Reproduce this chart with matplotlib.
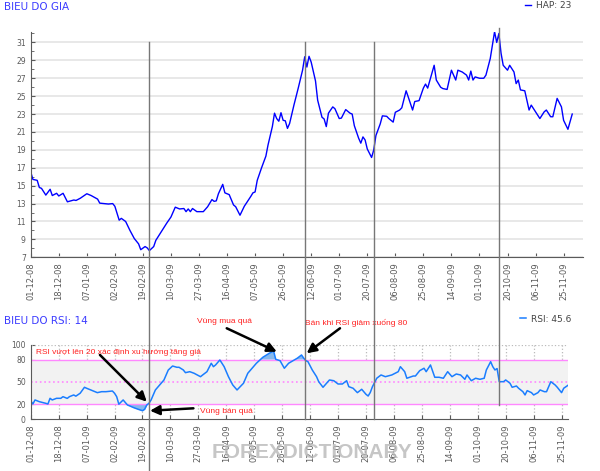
import numpy as np
import matplotlib.pyplot as plt
import matplotlib.transforms as mtransforms
from matplotlib.lines import Line2D
from matplotlib.ticker import MultipleLocator

# trading-day index -> closing price
price_day = [0, 1, 3, 4, 5, 7, 9, 10, 12, 13, 15, 17, 20, 21, 23, 26, 28, 31, 32, 34,
             36, 38, 39, 41, 42, 44, 46, 48, 50, 51, 53, 54, 55, 57, 58, 61, 63, 65, 67, 69,
             71, 72, 73, 74, 75, 77, 80, 82, 84, 85, 86, 87, 89, 90, 92, 94, 95, 97, 99, 102,
             103, 104, 105, 107, 109, 110, 112, 113, 114, 115, 116, 117, 118, 119, 120, 122, 124, 126, 127, 128,
             129, 130, 132, 133, 135, 136, 137, 138, 140, 141, 143, 144, 146, 148, 149, 150, 152, 153, 154, 155,
             156, 158, 159, 160, 162, 163, 165, 166, 168, 169, 171, 172, 174, 175, 177, 178, 180, 182, 183, 184,
             186, 187, 188, 190, 191, 193, 195, 197, 198, 200, 202, 203, 204, 205, 206, 208, 210, 211, 213, 215,
             216, 217, 218, 219, 221, 222, 224, 225, 226, 227, 229, 230, 231, 232, 234, 236, 238, 239, 241, 242,
             244, 246, 247, 249, 251]
price = [16.55, 15.7, 15.6, 14.8, 14.7, 13.95, 14.6, 13.9, 14.15, 13.85, 14.15, 13.2, 13.4, 13.35, 13.6, 14.1, 13.9, 13.5, 13.05, 13.0,
         12.95, 13.0, 12.7, 11.15, 11.35, 11.0, 10.0, 9.1, 8.5, 7.85, 8.2, 8.05, 7.75, 8.2, 8.9, 10.05, 10.8, 11.5, 12.6, 12.4,
         12.45, 12.1, 12.4, 12.1, 12.45, 12.1, 12.1, 12.65, 13.45, 13.25, 13.3, 14.1, 15.15, 14.2, 14.0, 12.85, 12.65, 11.7, 12.7, 13.8,
         14.2, 14.3, 15.6, 17.0, 18.3, 19.55, 21.6, 23.1, 22.5, 22.2, 23.15, 22.3, 22.25, 21.4, 21.95, 24.0, 25.9, 27.9, 29.4, 28.25,
         29.45, 28.8, 26.7, 24.55, 22.65, 22.45, 21.6, 23.1, 23.8, 23.6, 22.5, 22.55, 23.5, 23.1, 23.0, 21.7, 20.3, 19.75, 20.45, 20.1,
         19.1, 18.15, 19.0, 20.6, 21.9, 22.8, 22.75, 22.5, 22.1, 23.2, 23.45, 23.7, 25.6, 24.9, 23.45, 24.4, 24.5, 25.9, 26.35, 25.9,
         27.6, 28.45, 26.8, 26.0, 25.85, 25.75, 27.9, 26.8, 27.9, 27.7, 27.35, 26.8, 27.8, 26.8, 27.15, 27.0, 27.0, 27.35, 29.2, 32.2,
         31.0, 32.0, 29.8, 28.45, 27.9, 28.45, 27.7, 26.4, 26.8, 25.7, 25.6, 24.55, 23.45, 24.0, 23.25, 22.5, 23.25, 23.45, 22.7, 22.7,
         24.75, 23.8, 22.3, 21.3, 23.0]

# trading-day index -> RSI(14)
rsi_day = [0, 1, 2, 4, 7, 8, 9, 10, 12, 14, 15, 17, 18, 20, 21, 23, 25, 26, 28, 31,
           33, 35, 38, 39, 40, 41, 43, 45, 48, 50, 52, 53, 54, 55, 56, 58, 62, 64, 66, 68,
           69, 71, 72, 74, 76, 79, 80, 82, 84, 85, 86, 88, 90, 92, 94, 96, 99, 101, 105, 108,
           111, 113, 114, 116, 118, 120, 124, 126, 127, 128, 129, 131, 133, 134, 136, 139, 141, 143, 145, 147,
           148, 150, 152, 154, 156, 157, 158, 159, 161, 163, 165, 168, 171, 172, 174, 175, 178, 179, 181, 183,
           184, 186, 188, 190, 192, 194, 196, 198, 200, 202, 203, 205, 207, 209, 211, 212, 214, 215, 216, 217,
           218, 220, 221, 223, 224, 226, 227, 229, 230, 231, 233, 234, 236, 237, 239, 240, 242, 244, 245, 247,
           248, 250]
rsi = [24.9, 20.5, 25.9, 23.6, 21.4, 20.5, 28.1, 25.9, 28.1, 28.1, 30.3, 28.0, 30.3, 32.6, 31.0, 34.9, 42.9, 41.6, 39.3, 35.7,
       37.0, 37.0, 37.9, 34.9, 30.3, 20.2, 25.9, 19.2, 15.5, 13.4, 11.5, 13.4, 19.2, 21.4, 25.9, 39.3, 52.7, 66.0, 71.4, 69.7,
       69.7, 66.1, 62.5, 63.8, 61.7, 57.1, 59.4, 63.8, 75.1, 70.5, 72.8, 79.5, 70.5, 57.1, 46.0, 39.3, 48.3, 61.7, 75.1, 83.1,
       88.5, 91.6, 80.4, 78.6, 68.4, 75.1, 81.8, 86.2, 82.0, 78.6, 77.2, 66.1, 57.1, 50.4, 42.9, 52.7, 51.7, 47.3, 47.3, 51.7,
       43.7, 41.6, 35.7, 40.2, 33.5, 31.2, 36.0, 43.7, 55.0, 59.4, 57.1, 59.4, 63.8, 70.5, 63.8, 55.0, 58.0, 58.0, 65.2, 68.4,
       63.8, 72.8, 56.3, 56.3, 55.0, 63.8, 57.1, 60.7, 59.4, 53.6, 59.4, 51.7, 55.0, 53.6, 55.0, 66.1, 77.2, 70.5, 66.1, 68.0,
       50.4, 50.4, 52.7, 48.3, 42.9, 44.6, 41.6, 37.0, 32.6, 38.4, 35.7, 32.6, 35.7, 39.3, 37.0, 37.0, 50.4, 46.0, 42.9, 35.7,
       41.6, 45.6]

tick_labels = ["01-12-08", "18-12-08", "07-01-09", "02-02-09", "19-02-09", "10-03-09", "27-03-09",
               "16-04-09", "07-05-09", "26-05-09", "12-06-09", "01-07-09", "20-07-09", "06-08-09",
               "25-08-09", "14-09-09", "01-10-09", "20-10-09", "06-11-09", "25-11-09"]
tick_step = 13
signal_days = [55, 127, 159, 217]

tick_pos = np.arange(len(tick_labels)) * tick_step
price_day = np.array(price_day)
price = np.array(price)
rsi_day = np.array(rsi_day)
rsi = np.array(rsi)

grey = "#5a5a5a"
fig = plt.figure(figsize=(6, 4.71), dpi=100)

# price chart
ax1 = fig.add_axes([0.0512, 0.4537, 0.9205, 0.479])
ax1.plot(price_day, price, color="#0000ff", lw=1.0, label="HAP: 23")
ax1.set_xlim(0, 256)
ax1.set_ylim(7, 32.2)
ax1.set_yticks(np.arange(7, 32, 2))
ax1.yaxis.set_minor_locator(MultipleLocator(1))
ax1.grid(axis="y", color="#e4e4e4", lw=1.2)
ax1.set_axisbelow(True)
ax1.set_xticks(tick_pos)
ax1.set_xticklabels(tick_labels, rotation=90)
for s in ["top", "right"]:
    ax1.spines[s].set_visible(False)
for s in ["left", "bottom"]:
    ax1.spines[s].set_color(grey)
ax1.tick_params(direction="in", length=3, colors=grey, labelsize=6)
ax1.tick_params(axis="y", which="minor", direction="in", length=2, colors=grey)
ax1.tick_params(axis="y", labelsize=5.5)
ax1.legend(loc="center right", bbox_to_anchor=(580 / 600, 1 - 6 / 471), bbox_transform=fig.transFigure,
           frameon=False, fontsize=6.5, handlelength=0.7, handletextpad=0.6, labelcolor="#444444")

# RSI chart
ax2 = fig.add_axes([0.0512, 0.1098, 0.8955, 0.1584])
ax2.axhspan(20, 80, color="#f2f2f2", lw=0)
ax2.axhline(100, color="#bbbbbb", ls=":", lw=0.9)
ax2.grid(axis="x", color="#bbbbbb", ls=":", lw=0.9)
ax2.set_axisbelow(True)
ax2.axhline(80, color="#ff88ff", lw=1)
ax2.axhline(20, color="#ff88ff", lw=1)
ax2.axhline(50, color="#ff88ff", lw=1.2, ls=":")
ax2.fill_between(rsi_day, rsi, 80, where=rsi > 80, interpolate=True, color="#86b9ee", lw=0)
ax2.fill_between(rsi_day, rsi, 20, where=rsi < 20, interpolate=True, color="#86b9ee", lw=0)
ax2.plot(rsi_day, rsi, color="#1a7dff", lw=1.1, label="RSI: 45.6")
ax2.set_xlim(0, 250)
ax2.set_ylim(0, 100)
ax2.set_yticks([0, 20, 50, 80, 100])
ax2.set_xticks(tick_pos)
ax2.set_xticklabels(tick_labels, rotation=90)
for s in ["top", "right"]:
    ax2.spines[s].set_visible(False)
for s in ["left", "bottom"]:
    ax2.spines[s].set_color(grey)
ax2.tick_params(direction="in", length=3, colors=grey, labelsize=6)
ax2.tick_params(axis="y", labelsize=5.5)
ax2.legend(loc="center right", bbox_to_anchor=(580 / 600, 1 - 319 / 471), bbox_transform=fig.transFigure,
           frameon=False, fontsize=6.5, handlelength=0.7, handletextpad=0.6, labelcolor="#444444")

# annotations
red = "#ff2020"
note_font = dict(color=red, fontsize=6, family="Liberation Sans", va="center", clip_on=False)
arrow = dict(arrowstyle="-|>", color="black", lw=1.8, mutation_scale=14, shrinkA=0, shrinkB=0)
ax2.text(2.5, 89.3, "RSI vượt lên 20 xác định xu hướng tăng giá", **note_font)
ax2.annotate("", xy=(54, 23.6), xytext=(32.2, 86.3), arrowprops=arrow, annotation_clip=False)
ax2.text(77.4, 130.8, "Vùng mua quá", **note_font)
ax2.annotate("", xy=(114.5, 90.6), xytext=(91.2, 122), arrowprops=arrow, annotation_clip=False)
ax2.text(127.6, 129.5, "Bán khi RSI giảm xuống 80", **note_font)
ax2.annotate("", xy=(128.4, 88.5), xytext=(143.9, 122), arrowprops=arrow, annotation_clip=False)
ax2.text(78.8, 11.1, "Vùng bán quá", **note_font)
ax2.annotate("", xy=(55.5, 11.5), xytext=(75.7, 14.7), arrowprops=arrow, annotation_clip=False)

# signal lines running through both panels
trans = mtransforms.blended_transform_factory(ax1.transData, fig.transFigure)
line_spans = [(0.9108, 0.0), (0.9108, 0.1098), (0.9108, 0.1098), (0.9406, 0.140)]
for d, (y0, y1) in zip(signal_days, line_spans):
    fig.add_artist(Line2D([d, d], [y0, y1], transform=trans, color="#777777", lw=1))

# titles
fig.text(4 / 600, 1 - 7 / 471, "BIEU DO GIA", color="#3c3cff", fontsize=7.5, va="center")
fig.text(4 / 600, 1 - 321 / 471, "BIEU DO RSI: 14", color="#3c3cff", fontsize=7.5, va="center")

# watermark
fig.text(0.52, 0.04, "FOREXDICTIONARY", fontsize=15, fontweight="bold", family="Liberation Sans",
         color="#b8b8b8", alpha=0.8, ha="center", va="center")

fig.savefig("out.png", dpi=100)
